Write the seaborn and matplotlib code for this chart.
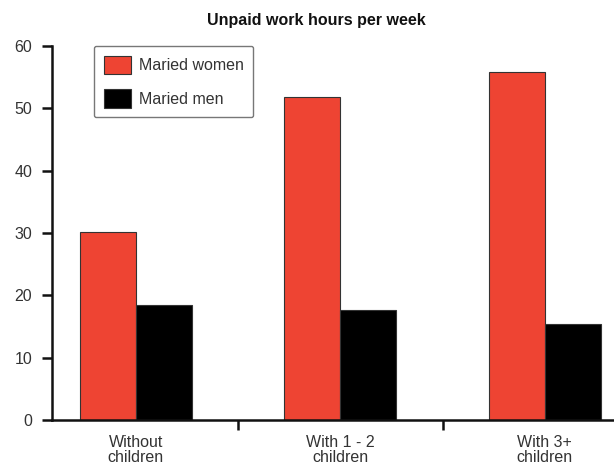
import matplotlib
matplotlib.use("Agg")
import matplotlib.pyplot as plt
import seaborn as sns
import pandas as pd

categories = ["Without\nchildren", "With 1 - 2\nchildren", "With 3+\nchildren"]
women = [30.2, 51.8, 55.9]
men = [18.4, 17.7, 15.4]
series_names = ["Maried women", "Maried men"]
title = "Unpaid work hours per week"

df = pd.DataFrame({
    "cat": categories * 2,
    "hours": women + men,
    "group": [series_names[0]] * 3 + [series_names[1]] * 3,
})

sns.set_theme(style="white")
plt.rcParams["font.family"] = ["Liberation Sans", "DejaVu Sans"]

fig = plt.figure(figsize=(6.14, 4.66), dpi=100)
ax = fig.add_axes([52 / 614, 46 / 466, 562 / 614, 374 / 466])

sns.barplot(data=df, x="cat", y="hours", hue="group", order=categories,
            hue_order=series_names, palette=["#EE4433", "#000000"],
            width=0.548, edgecolor="#333333", linewidth=0.8, ax=ax,
            errorbar=None, saturation=1)

ax.set_xlim(-0.41, 2.338)
ax.set_ylim(0, 60)
ax.set_xlabel("")
ax.set_ylabel("")
ax.set_yticks(range(0, 61, 10))
for s in ["top", "right"]:
    ax.spines[s].set_visible(False)
for s in ["left", "bottom"]:
    ax.spines[s].set_linewidth(1.8)
    ax.spines[s].set_color("#111111")
ax.spines["left"].set_bounds(0, 60)

ax.tick_params(axis="y", which="major", length=7.2, width=1.8, pad=7,
               labelsize=11.5, labelcolor="#333333", color="#111111", left=True)
ax.tick_params(axis="x", which="major", length=0, pad=11,
               labelsize=11.5, labelcolor="#333333")
ax.set_xticks([0.5, 1.5], minor=True)
ax.tick_params(axis="x", which="minor", length=7.5, width=1.8,
               color="#111111", bottom=True)
for lbl in ax.get_xticklabels():
    lbl.set_linespacing(1.0)

leg = ax.legend(loc="upper left", bbox_to_anchor=(0.0747, 1.0),
                borderaxespad=0, fontsize=11.5, frameon=True, fancybox=True,
                handlelength=1.7, handleheight=1.4, handletextpad=0.5,
                labelspacing=0.95, borderpad=0.6, title=None)
leg.get_frame().set_edgecolor("#555555")
leg.get_frame().set_linewidth(1.0)
leg.get_frame().set_boxstyle("round,pad=0,rounding_size=0.15")
for t in leg.get_texts():
    t.set_color("#333333")

fig.text(316 / 614, 1 - 20 / 466, title, ha="center", va="center",
         fontsize=11.5, fontweight="bold", color="#111111")

fig.savefig("out.png", dpi=100)
